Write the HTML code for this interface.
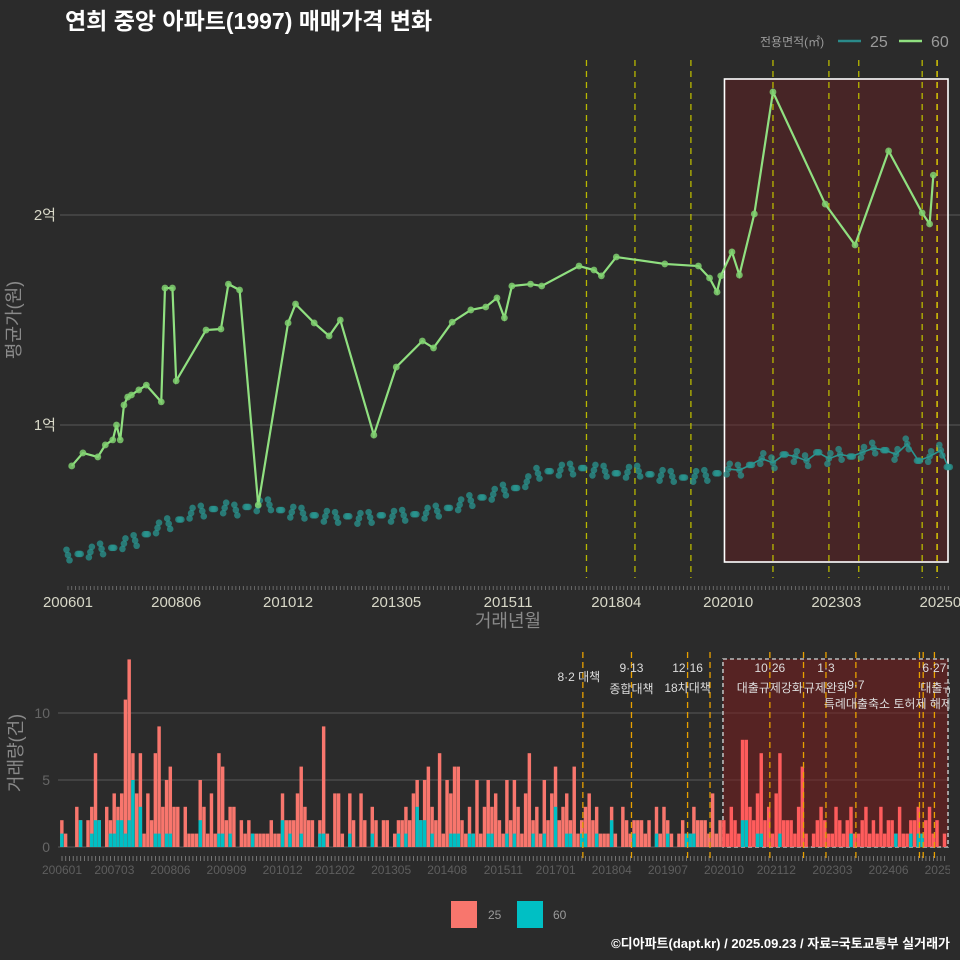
<!DOCTYPE html>
<html><head><meta charset="utf-8">
<style>
html,body{margin:0;padding:0;background:#2b2b2b;}
svg{display:block;font-family:"Liberation Sans","Noto Sans CJK KR",sans-serif;}
</style></head>
<body>
<svg id="c" width="960" height="960" viewBox="0 0 960 960">
<defs><clipPath id="botClip"><rect x="0" y="640" width="950" height="260"/></clipPath></defs>
<rect x="0" y="0" width="960" height="960" fill="#2b2b2b"/>
<text x="65" y="29" fill="#ffffff" font-size="23" font-weight="bold">연희 중앙 아파트(1997) 매매가격 변화</text>
<g>
<text x="760" y="46" fill="#9a9a9a" font-size="12">전용면적(㎡)</text>
<line x1="838" y1="41" x2="861" y2="41" stroke="#2a8a8a" stroke-width="2.5"/>
<text x="870" y="47" fill="#9a9a9a" font-size="16">25</text>
<line x1="899" y1="41" x2="922" y2="41" stroke="#90e080" stroke-width="2.5"/>
<text x="931" y="47" fill="#9a9a9a" font-size="16">60</text>
</g>
<g id="topPanel"></g>
<g id="botPanel" clip-path="url(#botClip)"></g>
<text x="20" y="320" fill="#8a8a8a" font-size="18" transform="rotate(-90 20 320)" text-anchor="middle">평균가(원)</text>
<text x="508" y="627" fill="#8a8a8a" font-size="18" text-anchor="middle">거래년월</text>
<text x="22" y="753" fill="#8a8a8a" font-size="18" transform="rotate(-90 22 753)" text-anchor="middle">거래량(건)</text>
<g>
<rect x="451" y="901" width="26" height="27" fill="#f8766d"/>
<text x="488" y="919" fill="#9a9a9a" font-size="12">25</text>
<rect x="517" y="901" width="26" height="27" fill="#00bfc4"/>
<text x="553" y="919" fill="#9a9a9a" font-size="12">60</text>
</g>
<text x="950" y="948" fill="#ffffff" font-size="13" font-weight="bold" text-anchor="end">©디아파트(dapt.kr) / 2025.09.23 / 자료=국토교통부 실거래가</text>
</svg>
<script>
// ---- data ----
const monthLabelsTop = ["200601","200806","201012","201305","201511","201804","202010","202303","202508"];
const monthLabelsBot = ["200601","200703","200806","200909","201012","201202","201305","201408","201511","201701","201804","201907","202010","202112","202303","202406","202509"];
const priceTicks = [10000, 20000];
const priceTickLabels = ["1억","2억"];
const volTicks = [0,5,10];
const months60 = [1,4,8,10,12,13,14,15,16,17,19,21,25,26,28,29,37,41,43,46,51,59,61,66,70,73,82,88,95,98,103,108,112,115,117,119,124,127,137,141,143,147,160,169,172,174,175,178,180,184,189,203,211,220,229,231,232];
const price60 = [8050,8670,8480,9050,9290,10000,9290,10950,11330,11430,11670,11900,11100,16520,16520,12100,14520,14570,16710,16430,6190,14860,15760,14860,14240,15000,9520,12760,14000,13670,14900,15480,15620,16050,15100,16620,16710,16620,17570,17380,17100,18000,17670,17570,17000,16330,17100,18240,17140,20050,25860,20520,18570,23050,20100,19570,21900];
const months25 = [0,3,6,9,12,15,18,21,24,27,30,33,36,39,42,45,48,51,54,57,60,63,66,69,72,75,78,81,84,87,90,93,96,99,102,105,108,111,114,117,120,123,126,129,132,135,138,141,144,147,150,153,156,159,162,165,168,171,174,177,180,183,186,189,192,195,198,201,204,207,210,213,216,219,222,225,228,231,234,236];
const price25 = [3810,3860,3950,4100,4150,4350,4500,4800,5100,5300,5500,5800,5900,6000,6050,5950,6100,6150,6200,5950,5850,5800,5700,5650,5600,5650,5550,5600,5700,5650,5700,5750,5800,5900,6050,6200,6400,6550,6700,6900,7000,7300,7700,7800,7850,7900,7950,7850,7800,7700,7750,7800,7650,7600,7550,7500,7550,7600,7700,7900,7850,8100,8400,8200,8600,8500,8300,8700,8400,8600,8500,8700,8900,8800,8600,9100,8300,8500,8800,8000];
const vol25 = [2,1,0,0,3,2,0,2,3,7,2,0, 3,2,4,3,4,11,14,7,4,7,1,4, 2,7,9,3,5,6,3,3,0,3,1,1, 1,5,3,1,4,1,7,6,2,3,3,0, 2,1,2,1,1,1,1,1,2,1,1,4, 2,2,2,4,6,3,2,2,0,2,9,1, 0,4,4,1,0,4,2,0,4,2,0,3, 2,0,2,2,0,1,2,2,3,2,4,5, 2,5,6,3,2,7,1,5,4,6,6,2, 1,3,1,5,1,3,5,3,4,2,1,5, 2,5,3,1,4,7,2,3,1,5,2,4, 6,2,3,4,2,6,1,2,3,4,2,3, 1,1,1,3,1,0,3,2,1,2,2,2, 1,2,0,3,1,3,2,1,0,1,2,1, 1,3,2,2,2,1,4,1,2,2,1,3, 2,1,8,8,3,2,4,7,2,3,1,4, 7,2,2,2,1,3,6,1,0,1,2,3, 2,1,1,3,2,1,2,3,1,1,2,3, 1,2,1,3,1,2,2,1,3,1,1,2, 2,3,1,2,3,1,2,0,1];
const vol60 = [1,0,0,0,0,2,0,0,1,2,2,0, 0,1,1,2,2,1,2,5,0,3,0,0, 0,1,1,0,1,1,0,0,0,0,0,0, 0,2,0,0,0,0,1,1,0,1,0,0, 0,0,0,1,0,0,0,0,0,0,0,2, 0,1,0,0,1,0,0,0,0,1,1,0, 0,0,0,0,0,1,0,0,0,0,0,1, 0,0,0,0,0,0,1,0,1,0,0,3, 2,2,0,1,0,0,0,0,1,1,1,0, 0,1,1,0,0,0,1,1,0,0,0,1, 0,1,0,0,0,0,1,0,0,1,0,0, 3,0,0,1,1,0,0,1,1,0,0,1, 0,0,0,2,0,0,0,0,0,1,0,0, 0,0,0,1,0,0,1,0,0,0,0,1, 1,1,0,0,0,0,0,0,0,0,0,0, 0,0,2,2,0,0,1,1,0,0,0,0, 1,0,0,0,0,0,0,0,0,0,0,0, 0,0,0,0,0,0,0,1,0,0,0,0, 0,0,0,0,0,0,0,1,0,0,0,1, 0,1,1,0,0,0,0,0,0];
const eventMonthsTop = [139,152,167,189,204,212,229,233];
const eventMonthsBot = [139,152,167,173,189,198,204,212,229,230,233];
const eventDates = ["8·2 대책","9·13","12·16","10·26","1·3","9·7","6·27"];
const eventNames = ["","종합대책","18차대책","대출규제강화","규제완화","특례대출축소 토허제 해제","대출규제"];
const eventLabelMonths = [139,152,167,189,204,212,233];

// ---- scales ----
const xT = m => 68 + m*3.73;
const yT = v => 425 - (v-10000)/10000*210;
const xB = m => 62 + m*3.74;
const yB = v => 847 - v*13.4;
const mIdx = s => (parseInt(s.slice(0,4))-2006)*12 + parseInt(s.slice(4,6))-1;
const NS = "http://www.w3.org/2000/svg";
function mk(parent, tag, attrs){const e=document.createElementNS(NS,tag);for(const k in attrs)e.setAttribute(k,attrs[k]);parent.appendChild(e);return e;}
const topG = document.getElementById('topPanel'), botG = document.getElementById('botPanel');

// ---- top panel ----
priceTicks.forEach((t,i)=>{
  const l=mk(topG,'line',{x1:60,x2:960,y1:yT(t),y2:yT(t),stroke:'#5a5a5a','stroke-width':1});
  
  
  const tx=mk(topG,'text',{x:56,y:yT(t)+5,fill:'#d8d8c8','font-size':15,'text-anchor':'end'});
  tx.textContent=priceTickLabels[i];
  
  
});
const hl=mk(topG,'rect',{x:xT(176),y:79,width:948-xT(176),height:483,fill:'#6a1f22','fill-opacity':0.45,stroke:'#ffffff','stroke-width':1.6});


eventMonthsTop.forEach((m,i)=>{
  const l=mk(topG,'line',{x1:xT(m),x2:xT(m),y1:60,y2:578,stroke:i==7?'#f0e000':'#b8b800','stroke-width':1.3,'stroke-dasharray':'6,5'});
  
  
});
months25.forEach((m,i)=>{
  [-1,0,1].forEach(d=>{
    const c=mk(topG,'circle',{cx:xT(m)+d*1.5,cy:yT(price25[i]+d*250*((i%3)-1)),r:3.3,fill:'#2a9590','fill-opacity':0.75});
    
    
  });
});
let pts25=[];
months25.forEach((m,i)=>{if(m>=177)pts25.push(xT(m)+','+yT(price25[i]));});
const pl25=mk(topG,'polyline',{points:pts25.join(' '),fill:'none',stroke:'#2a9590','stroke-width':1.6});


const pl60=mk(topG,'polyline',{points:months60.map((m,i)=>xT(m)+','+yT(price60[i])).join(' '),fill:'none',stroke:'#90e080','stroke-width':2.2});


months60.forEach((m,i)=>{
  const c=mk(topG,'circle',{cx:xT(m),cy:yT(price60[i]),r:3.4,fill:'#80d070','fill-opacity':0.85});
  
  
});
for(let m=0;m<=236;m++){
  const l=mk(topG,'line',{x1:xT(m),x2:xT(m),y1:586,y2:590,stroke:'#777','stroke-width':0.8});
  
  
}
monthLabelsTop.forEach((s,i)=>{
  const t=mk(topG,'text',{x:xT(mIdx(s)),y:607,fill:'#d8d8c8','font-size':15,'text-anchor':'middle'});
  t.textContent=s;
  
  
});

// ---- bottom panel ----
volTicks.forEach(t=>{
  const l=mk(botG,'line',{x1:58,x2:948,y1:yB(t),y2:yB(t),stroke:'#5a5a5a','stroke-width':1});
  
  
  const tx=mk(botG,'text',{x:50,y:yB(t)+5,fill:'#666','font-size':14,'text-anchor':'end'});
  tx.textContent=t;
  
  
});
const hb=mk(botG,'rect',{x:xB(177)-1,y:659,width:948-xB(177)+1,height:188,fill:'#7a1e1e','fill-opacity':0.55,stroke:'#bbbbbb','stroke-width':1.6,'stroke-dasharray':'4,3'});


vol25.forEach((v,m)=>{
  const w=3.74, x=xB(m)-w/2;
  if(v>0){
    const r=mk(botG,'rect',{x:x,y:yB(v),width:w-0.3,height:yB(0)-yB(v),fill:m>=177?'#ff5c5c':'#f8766d'});
    
    
  }
  const v6=Math.min(vol60[m],v);
  if(v6>0){
    const r2=mk(botG,'rect',{x:x,y:yB(v6),width:w-0.3,height:yB(0)-yB(v6),fill:'#00bfc4'});
    
    
  }
});
eventMonthsBot.forEach(m=>{
  const l=mk(botG,'line',{x1:xB(m)+1,x2:xB(m)+1,y1:652,y2:858,stroke:'#e8a000','stroke-width':1.3,'stroke-dasharray':'6,4'});
  
  
});
const dateY=[681,672,672,672,672,689,672];
const nameY=[0,693,692,692,692,708,692];
const nameDx=[0,0,0,0,0,32,8];
eventLabelMonths.forEach((m,i)=>{
  const x=xB(m)+1;
  const t=mk(botG,'text',{x:i==0?x-4:x,y:dateY[i],fill:'#dddddd','font-size':12,'text-anchor':'middle'});
  t.textContent=eventDates[i];
  
  
  if(eventNames[i]){
    const t2=mk(botG,'text',{x:x+nameDx[i],y:nameY[i],fill:'#dddddd','font-size':12,'text-anchor':'middle'});
    t2.textContent=eventNames[i];
    
    
  }
});
for(let m=0;m<=236;m++){
  const l=mk(botG,'line',{x1:xB(m),x2:xB(m),y1:856,y2:861,stroke:'#888','stroke-width':0.8});
  
  
}
monthLabelsBot.forEach((s,i)=>{
  const t=mk(botG,'text',{x:xB(mIdx(s)),y:874,fill:'#5e5e5e','font-size':12,'text-anchor':'middle'});
  t.textContent=s;
  
  
});
</script>
</body></html>
